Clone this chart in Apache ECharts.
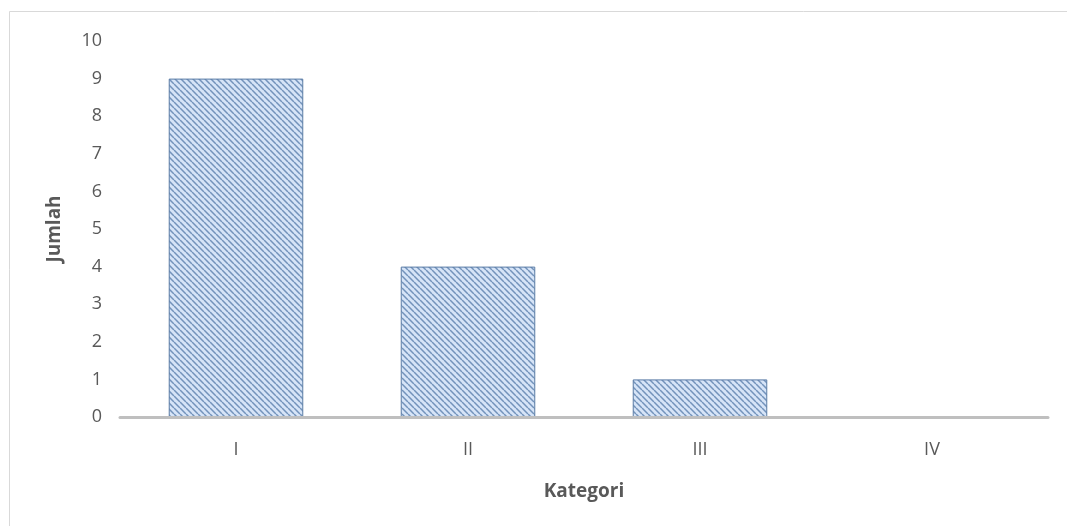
<!DOCTYPE html>
<html>
<head>
<meta charset="utf-8">
<script src="https://cdn.jsdelivr.net/npm/echarts@6/dist/echarts.min.js"></script>
<style>
  html, body { margin: 0; padding: 0; background: #ffffff; }
  #chart { width: 1067px; height: 526px; }
</style>
</head>
<body>
<div id="chart"></div>
<script>
// Category labels and counts
const categories = ['I', 'II', 'III', 'IV'];
const counts = [9, 4, 1, 0];
const yTicks = { min: 0, max: 10, interval: 1 };

// Diagonal hatch fill for the bars
function makeHatch() {
  const size = 6;
  const c = document.createElement('canvas');
  c.width = size; c.height = size;
  const ctx = c.getContext('2d');
  ctx.fillStyle = '#d6e4f7';
  ctx.fillRect(0, 0, size, size);
  ctx.strokeStyle = '#7393bb';
  ctx.lineWidth = 1.5;
  ctx.beginPath();
  for (let k = -1; k <= 1; k++) {
    ctx.moveTo(k * size, 0);
    ctx.lineTo(k * size + size, size);
  }
  ctx.stroke();
  return c;
}

const chart = echarts.init(document.getElementById('chart'), null, { renderer: 'canvas' });
const font = '"Open Sans", "Noto Sans", sans-serif';

chart.setOption({
  animation: false,
  backgroundColor: '#ffffff',
  graphic: [{
    type: 'rect',
    shape: { x: 9.5, y: 11.5, width: 1100, height: 600 },
    style: { fill: 'none', stroke: '#d9d9d9', lineWidth: 1 },
    silent: true
  }],
  grid: { left: 120, right: 19, top: 41, bottom: 109, containLabel: false },
  xAxis: {
    type: 'category',
    data: categories,
    z: 5,
    name: 'Kategori',
    nameLocation: 'middle',
    nameGap: 65,
    nameTextStyle: { fontFamily: font, fontSize: 19, fontWeight: 'bold', color: '#595959' },
    axisLine: { lineStyle: { color: '#bfbfbf', width: 3 } },
    axisTick: { show: false },
    axisLabel: { fontFamily: font, fontSize: 18, color: '#595959', margin: 24 }
  },
  yAxis: {
    type: 'value',
    min: yTicks.min, max: yTicks.max, interval: yTicks.interval,
    name: 'Jumlah',
    nameLocation: 'middle',
    nameGap: 56,
    nameTextStyle: { fontFamily: font, fontSize: 19, fontWeight: 'bold', color: '#595959' },
    axisLine: { show: false },
    axisTick: { show: false },
    splitLine: { show: false },
    axisLabel: { fontFamily: font, fontSize: 18, color: '#595959', margin: 18 }
  },
  series: [{
    type: 'bar',
    data: counts,
    barWidth: '58%',
    itemStyle: {
      color: { image: makeHatch(), repeat: 'repeat' },
      borderColor: '#5b7ca6',
      borderWidth: 1
    }
  }]
});
</script>
</body>
</html>
